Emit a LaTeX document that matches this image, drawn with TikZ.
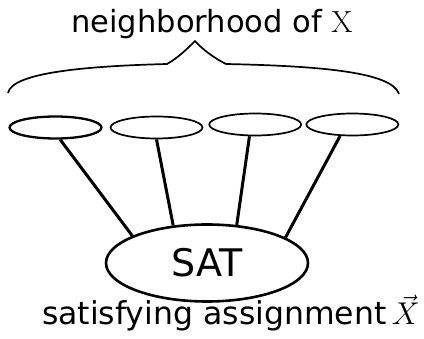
\RequirePackage{fix-cm}
\documentclass[tikz,border=0pt]{standalone}
\usepackage{fontspec}
\newfontfamily\dejavu{DejaVu Sans}
\usepackage{tikz}
\usetikzlibrary{positioning,shapes.geometric}

\begin{document}
\begin{tikzpicture}[
  x=1pt, y=-1pt,
  node distance=7pt,
  slot/.style={draw, ellipse, line width=1.7pt, minimum width=92pt, minimum height=22pt, inner sep=0pt},
  sat/.style={draw, ellipse, line width=2.6pt, minimum width=202pt, minimum height=77pt, inner sep=0pt, font=\dejavu\fontsize{38}{44}\selectfont},
  link/.style={line width=3pt},
  bracel/.style={line width=1.7pt, line join=round},
  caption/.style={inner sep=0pt, anchor=base, font=\dejavu\fontsize{30.5}{36}\selectfont}
]
\useasboundingbox (0,0) rectangle (424,339);
\node[caption] (title) at (212,33) {neighborhood of $\mathrm{X}$};
\draw[bracel] (8,93) .. controls (12,72) and (90,66) .. (167,64)
  .. controls (178,58) and (188,48) .. (195,41)
  .. controls (202,49) and (214,58) .. (226,64)
  .. controls (320,66) and (392,72) .. (399,94);
\node[slot, line width=2.3pt] (e1) at (55.5,127.5) {};
\node[slot, right=7pt of e1] (e2) {};
\node[slot, right=5pt of e2, yshift=3pt] (e3) {};
\node[slot, right=3.5pt of e3] (e4) {};
\node[sat] (sat) at (207,263) {SAT};
\draw[link] (e1.-69) -- (sat.160);
\draw[link] (e2.south) -- (sat.132);
\draw[link] (e3.-116) -- (sat.52);
\draw[link] (e4.-137) -- (sat.18);
\node[caption, font=\dejavu\fontsize{31.5}{37}\selectfont] (result) at (231,325) {satisfying assignment\,$\vec{X}$};
\end{tikzpicture}
\end{document}
